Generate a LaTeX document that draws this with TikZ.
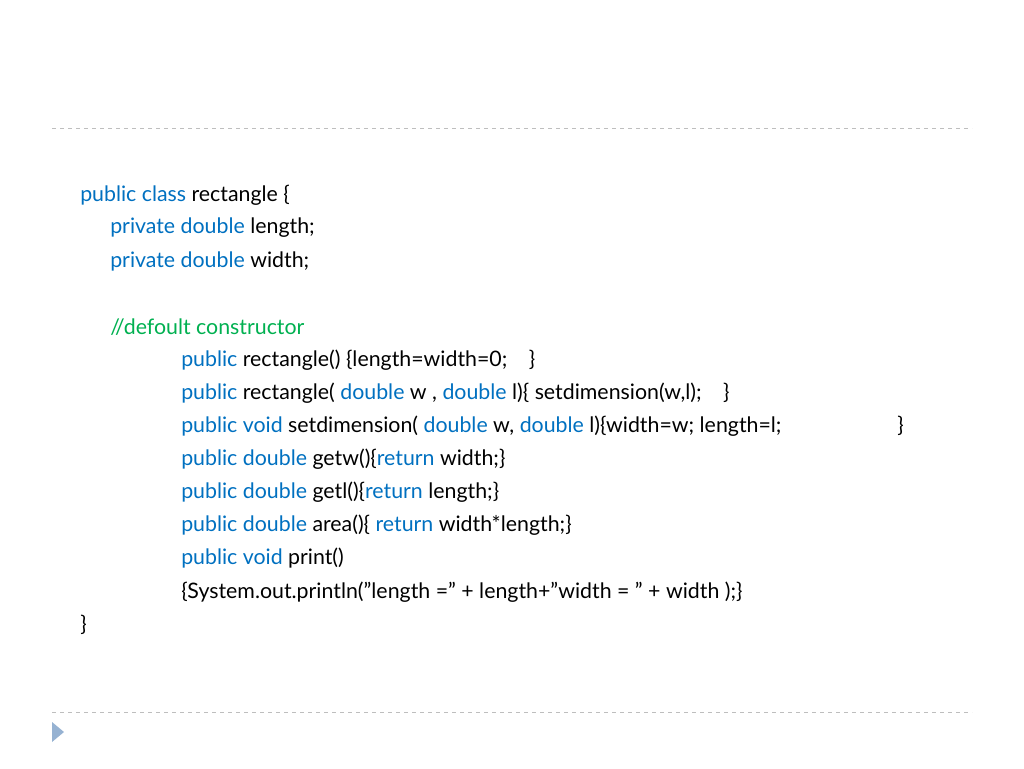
\documentclass[tikz,border=0pt]{standalone}
\usepackage{fontspec}
\setmainfont{Lato}[Ligatures=ResetAll]
\definecolor{kwblue}{RGB}{0,112,192}
\definecolor{cmgreen}{RGB}{0,176,80}
\definecolor{rulegray}{RGB}{190,190,190}
\definecolor{bullet}{RGB}{150,178,210}
\newcommand{\kw}[1]{\textcolor{kwblue}{#1}}
\newcommand{\dq}{\symbol{34}}
\begin{document}
\begin{tikzpicture}[x=0.75pt,y=-0.75pt]
    \tikzset{every node/.style = {anchor=west, inner sep=0pt, font=\fontsize{16}{19}\selectfont}};
    \useasboundingbox (0,0) rectangle (1024,768);
    \draw[rulegray, dashed] (52,128) -- (972,128);
    \draw[rulegray, dashed] (52,712) -- (972,712);
    \fill[bullet] (52,722) -- (64,732) -- (52,742) -- cycle;
    \node (l1) at (80,195) {\kw{public class} rectangle \{};
    \node (l2) at (110,228) {\kw{private double} length;};
    \node (l3) at (110,261) {\kw{private double} width;};
    \node (l4) at (110,327) {\textcolor{cmgreen}{//defoult constructor}};
    \node (l5) at (181,360) {\kw{public} rectangle() \{length=width=0;\quad\}};
    \node (l6) at (181,393) {\kw{public} rectangle( \kw{double} w , \kw{double} l)\{ setdimension(w,l);\quad\}};
    \node (l7) at (181,426) {\kw{public void} setdimension( \kw{double} w, \kw{double} l)\{width=w; length=l;};
    \node (b7) at (897,426) {\}};
    \node (l8) at (181,459) {\kw{public double} getw()\{\kw{return} width;\}};
    \node (l9) at (181,492) {\kw{public double} getl()\{\kw{return} length;\}};
    \node (l10) at (181,525) {\kw{public double} area()\{ \kw{return} width*length;\}};
    \node (l11) at (181,558) {\kw{public void} print()};
    \node (l12) at (181,592) {\{System.out.println(\dq length =\dq{} + length+\dq width = \dq{} + width );\}};
    \node (l13) at (80,625) {\}};
\end{tikzpicture}
\end{document}
